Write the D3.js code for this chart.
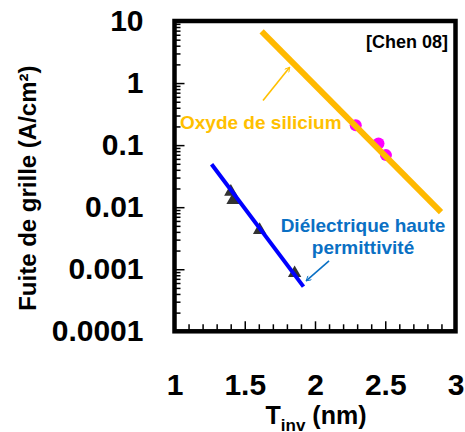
<!DOCTYPE html>
<html>
<head>
<meta charset="utf-8">
<script src="https://cdn.jsdelivr.net/npm/d3@7"></script>
<style>
  body { margin: 0; background: #fff; }
  text { font-family: "Liberation Sans", Arial, sans-serif; font-weight: bold; }
</style>
</head>
<body>
<div id="chart"></div>
<script>
// Data.
const xTickValues = [1, 1.5, 2, 2.5, 3];
const xTickLabels = ['1', '1.5', '2', '2.5', '3'];
const yTickValues = [1e-4, 1e-3, 1e-2, 1e-1, 1, 10];
const yTickLabels = ['0.0001', '0.001', '0.01', '0.1', '1', '10'];

// SiO2 fit line and measured points.
const oxideLineX = [1.62, 2.897];
const oxideLineY = [6.8, 0.0083];
const oxidePointsX = [2.29, 2.452, 2.505];
const oxidePointsY = [0.209, 0.106, 0.069];

// High-k fit line and measured points.
const highkLineX = [1.264, 1.918];
const highkLineY = [0.0493, 0.000525];
const highkPointsX = [1.401, 1.417, 1.606, 1.855];
const highkPointsY = [0.0177, 0.013, 0.00428, 0.000863];

const width = 465;
const height = 432;
const plotLeft = 174.5, plotRight = 455.5, plotTop = 21, plotBottom = 331.3;

const ORANGE = '#FFB900';
const ORANGE_TXT = '#FFC000';
const BLUE_TXT = '#0A70C4';

const svg = d3.select('#chart')
  .append('svg')
  .attr('width', width)
  .attr('height', height);

const x = d3.scaleLinear().domain([1, 3]).range([plotLeft, plotRight]);
const y = d3.scaleLog().domain([1e-4, 10]).range([plotBottom, plotTop]);

// Minor ticks.
const xMinor = d3.range(1.1, 3, 0.1).filter(v => Math.abs(v * 2 - Math.round(v * 2)) > 1e-6);
const yMinor = y.ticks().filter(v => Math.abs(Math.log10(v) - Math.round(Math.log10(v))) > 1e-6);

const minorX = svg.append('g')
  .attr('transform', `translate(0,${plotBottom})`)
  .call(d3.axisBottom(x).tickValues(xMinor).tickSize(-7).tickFormat(''));
minorX.select('.domain').remove();

const minorY = svg.append('g')
  .attr('transform', `translate(${plotLeft},0)`)
  .call(d3.axisLeft(y).tickValues(yMinor).tickSize(-6).tickFormat(''));
minorY.select('.domain').remove();

const xAxis = svg.append('g')
  .attr('transform', `translate(0,${plotBottom})`)
  .call(d3.axisBottom(x)
    .tickValues(xTickValues)
    .tickSize(-10)
    .tickPadding(42)
    .tickFormat((d, i) => xTickLabels[i]));
xAxis.select('.domain').remove();
xAxis.selectAll('text')
  .style('font-size', '30px')
  .attr('fill', '#000');

const yAxis = svg.append('g')
  .attr('transform', `translate(${plotLeft},0)`)
  .call(d3.axisLeft(y)
    .tickValues(yTickValues)
    .tickSize(-10)
    .tickPadding(31)
    .tickFormat((d, i) => yTickLabels[i]));
yAxis.select('.domain').remove();
yAxis.selectAll('text')
  .style('font-size', '30px')
  .attr('fill', '#000');

svg.selectAll('.tick line')
  .attr('stroke', '#000')
  .attr('stroke-width', 1.5);

// Frame.
svg.append('rect')
  .attr('x', plotLeft)
  .attr('y', plotTop)
  .attr('width', plotRight - plotLeft)
  .attr('height', plotBottom - plotTop)
  .attr('fill', 'none')
  .attr('stroke', '#000')
  .attr('stroke-width', 4.5);

// Points first, fit lines on top.
svg.append('g')
  .selectAll('circle')
  .data(oxidePointsX)
  .join('circle')
  .attr('cx', d => x(d))
  .attr('cy', (d, i) => y(oxidePointsY[i]))
  .attr('r', 6)
  .attr('fill', '#FF00FF');

svg.append('g')
  .selectAll('path')
  .data(highkPointsX)
  .join('path')
  .attr('d', d3.symbol(d3.symbolTriangle, 78))
  .attr('transform', (d, i) => `translate(${x(d)},${y(highkPointsY[i])})`)
  .attr('fill', '#333');

const line = d3.line()
  .x(d => x(d[0]))
  .y(d => y(d[1]));

svg.append('path')
  .datum(oxideLineX.map((d, i) => [d, oxideLineY[i]]))
  .attr('d', line)
  .attr('fill', 'none')
  .attr('stroke', ORANGE)
  .attr('stroke-width', 6);

svg.append('path')
  .datum(highkLineX.map((d, i) => [d, highkLineY[i]]))
  .attr('d', line)
  .attr('fill', 'none')
  .attr('stroke', '#0000FF')
  .attr('stroke-width', 4);

// Arrow heads.
const defs = svg.append('defs');
[['arrowOrange', ORANGE_TXT], ['arrowBlue', BLUE_TXT]].forEach(([id, col]) => {
  defs.append('marker')
    .attr('id', id)
    .attr('viewBox', '0 0 10 10')
    .attr('refX', 9)
    .attr('refY', 5)
    .attr('markerWidth', 6)
    .attr('markerHeight', 6)
    .attr('markerUnits', 'userSpaceOnUse')
    .attr('orient', 'auto')
    .append('path')
    .attr('d', 'M1,0.5 L9,5 L1,9.5')
    .attr('fill', 'none')
    .attr('stroke', col)
    .attr('stroke-width', 1.6);
});

// Annotations.
svg.append('line')
  .attr('x1', x(1.63)).attr('y1', y(0.525))
  .attr('x2', x(1.82)).attr('y2', y(1.8))
  .attr('stroke', ORANGE_TXT)
  .attr('stroke-width', 1.6)
  .attr('marker-end', 'url(#arrowOrange)');

svg.append('line')
  .attr('x1', x(2.1)).attr('y1', y(0.00136))
  .attr('x2', x(1.937)).attr('y2', y(0.00065))
  .attr('stroke', BLUE_TXT)
  .attr('stroke-width', 1.6)
  .attr('marker-end', 'url(#arrowBlue)');

svg.append('text')
  .attr('x', 180)
  .attr('y', 129)
  .attr('fill', ORANGE_TXT)
  .style('font-size', '19px')
  .text('Oxyde de silicium');

const hk = svg.append('text')
  .attr('fill', BLUE_TXT)
  .attr('text-anchor', 'middle')
  .style('font-size', '19px');
hk.append('tspan').attr('x', 363).attr('y', 232).text('Diélectrique haute');
hk.append('tspan').attr('x', 363).attr('y', 254).text('permittivité');

svg.append('text')
  .attr('x', 448)
  .attr('y', 48)
  .attr('text-anchor', 'end')
  .attr('fill', '#000')
  .style('font-size', '18px')
  .text('[Chen 08]');

// Axis titles.
const xt = svg.append('text')
  .attr('x', x(2) + 1)
  .attr('y', 424)
  .attr('text-anchor', 'middle')
  .attr('fill', '#000')
  .style('font-size', '25px');
xt.append('tspan').text('T');
xt.append('tspan').attr('dy', 7).style('font-size', '17px').text('inv');
xt.append('tspan').attr('dy', -7).text(' (nm)');

svg.append('text')
  .attr('transform', `translate(36,${(plotTop + plotBottom) / 2 + 12}) rotate(-90)`)
  .attr('text-anchor', 'middle')
  .attr('fill', '#000')
  .style('font-size', '24px')
  .text('Fuite de grille (A/cm²)');
</script>
</body>
</html>
